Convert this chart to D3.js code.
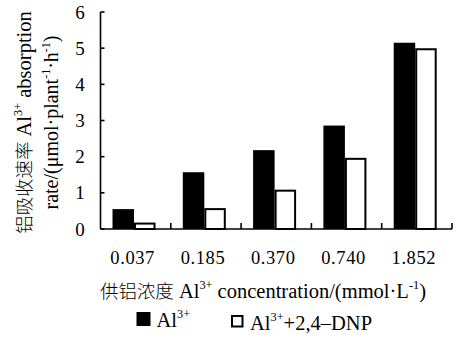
<!DOCTYPE html>
<html>
<head>
    <meta charset='utf-8'>
    <title>Al3+ absorption</title>
    <script src='https://cdn.jsdelivr.net/npm/d3@7'></script>
    <style>
        body { margin: 0; background: #fff; }
        text { font-family: 'Liberation Serif', 'Noto Sans CJK SC', serif; fill: #000; }
        .cjk { font-family: 'Noto Sans CJK SC', sans-serif; font-weight: 300; }
    </style>
</head>
<body>
    <svg width='461' height='339'></svg>
    <script>
        const categories = ['0.037', '0.185', '0.370', '0.740', '1.852']
        const alValues = [0.55, 1.57, 2.18, 2.86, 5.15]
        const dnpValues = [0.15, 0.55, 1.06, 1.94, 4.97]
        const yTicks = [0, 1, 2, 3, 4, 5, 6]

        const svg = d3.select('svg')
        const plotL = 100.5, plotR = 452, plotT = 12, plotB = 229

        const x = d3.scaleBand().domain(categories).range([plotL, plotR])
        const y = d3.scaleLinear().domain([0, 6]).range([plotB, plotT])
        const barW = 21.5

        // axes
        const g = svg.append('g').attr('stroke', '#000').attr('stroke-width', 1.6)
        g.append('line').attr('x1', plotL).attr('x2', plotL).attr('y1', plotT).attr('y2', plotB)
        g.append('line').attr('x1', plotL).attr('x2', plotR).attr('y1', plotB).attr('y2', plotB)
        g.selectAll('.yt').data(yTicks).enter().append('line')
            .attr('x1', plotL).attr('x2', plotL + 4)
            .attr('y1', d => y(d)).attr('y2', d => y(d))
        g.selectAll('.xt').data(categories).enter().append('line')
            .attr('x1', d => x(d) + x.bandwidth()).attr('x2', d => x(d) + x.bandwidth())
            .attr('y1', plotB).attr('y2', plotB - 6)

        svg.selectAll('.yl').data(yTicks).enter().append('text')
            .attr('x', 80).attr('y', d => y(d)).attr('dy', '0.35em')
            .attr('text-anchor', 'middle').style('font-size', '19px')
            .text(d => d)

        svg.selectAll('.xl').data(categories).enter().append('text')
            .attr('x', d => x(d) + x.bandwidth() / 2 - 3).attr('y', 264)
            .attr('text-anchor', 'middle').style('font-size', '18.5px')
            .style('letter-spacing', '0.6px')
            .text(d => d)

        // bars
        const pairs = categories.map((c, i) => ({ c, a: alValues[i], b: dnpValues[i] }))
        const off = 12
        svg.selectAll('.ba').data(pairs).enter().append('rect')
            .attr('x', d => x(d.c) + off).attr('width', barW)
            .attr('y', d => y(d.a)).attr('height', d => y(0) - y(d.a))
            .attr('fill', '#000')
        svg.selectAll('.bb').data(pairs).enter().append('rect')
            .attr('x', d => x(d.c) + off + barW + 1).attr('width', barW - 2)
            .attr('y', d => y(d.b)).attr('height', d => y(0) - y(d.b))
            .attr('fill', '#fff').attr('stroke', '#000').attr('stroke-width', 2)

        // rich text: parts are [string, kind]; kind 's' = superscript, 'c' = chinese
        function rich(t, parts, size) {
            let raised = false
            parts.forEach(([s, kind]) => {
                const sp = t.append('tspan').text(s)
                if (kind === 's') {
                    sp.style('font-size', (size * 0.6) + 'px')
                    if (!raised) sp.attr('dy', -size * 0.42)
                    raised = true
                    return
                }
                if (kind === 'c') sp.attr('class', 'cjk').style('font-size', (size * 0.9) + 'px')
                if (raised) {
                    sp.attr('dy', size * 0.42)
                    raised = false
                }
            })
        }

        // x title
        const xt = svg.append('text').attr('x', 263).attr('y', 298)
            .attr('text-anchor', 'middle').style('font-size', '20.5px')
        rich(xt, [['供铝浓度', 'c'], [' Al'], ['3+', 's'], [' concentration/(mmol·L'], ['-1', 's'], [')']], 20.5)

        // y title
        const yt = svg.append('g').attr('transform', 'translate(0,122.5) rotate(-90)')
        const y1 = yt.append('text').attr('text-anchor', 'middle').attr('y', 31).style('font-size', '20.5px')
        rich(y1, [['铝吸收速率', 'c'], [' Al'], ['3+', 's'], [' absorption']], 20.5)
        const y2 = yt.append('text').attr('text-anchor', 'middle').attr('y', 58).style('font-size', '20px')
        rich(y2, [['rate/(μmol·plant'], ['-1', 's'], ['·h'], ['-1', 's'], [')']], 20)

        // legend
        const lg = svg.append('g')
        lg.append('rect').attr('x', 136.5).attr('y', 312).attr('width', 14).attr('height', 14).attr('fill', '#000')
        const l1 = lg.append('text').attr('x', 156.5).attr('y', 327).style('font-size', '20.5px')
        rich(l1, [['Al'], ['3+', 's']], 20.5)
        lg.append('rect').attr('x', 232).attr('y', 316).attr('width', 10.5).attr('height', 10.5)
            .attr('fill', '#fff').attr('stroke', '#000').attr('stroke-width', 2)
        const l2 = lg.append('text').attr('x', 250).attr('y', 330).style('font-size', '20.5px')
        rich(l2, [['Al'], ['3+', 's'], ['+2,4–DNP']], 20.5)
    </script>
</body>
</html>
